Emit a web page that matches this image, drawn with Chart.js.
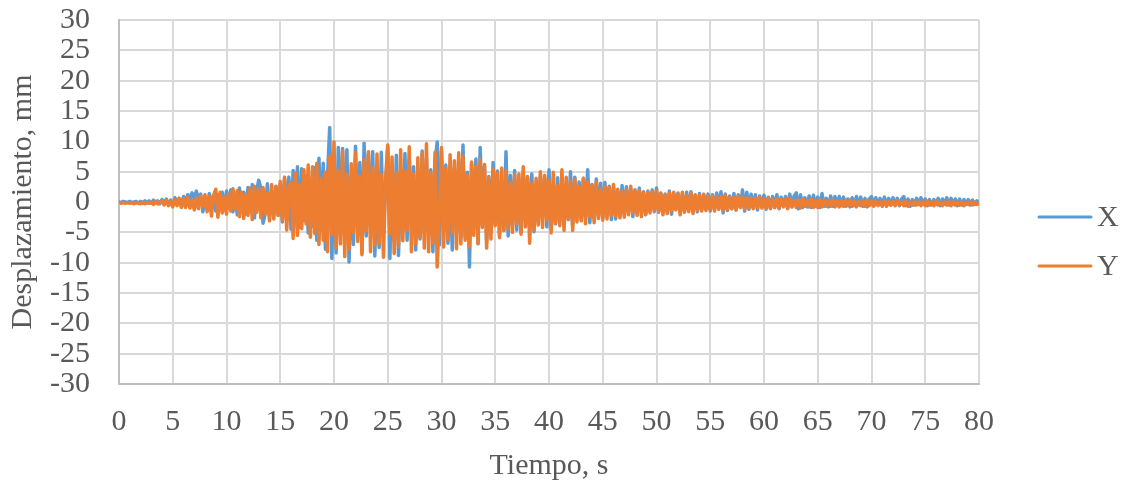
<!DOCTYPE html>
<html>
<head>
<meta charset="utf-8">
<script src="https://cdn.jsdelivr.net/npm/chart.js@4"></script>
<style>
  body { margin: 0; background: #ffffff; }
  #wrap { width: 1124px; height: 484px; }
</style>
</head>
<body>
<div id="wrap"><canvas id="myChart"></canvas></div>
<script>
// Samples every 0.2 s, 0 to 80 s (mm)
const timeStep = 0.2;

const xDisp = [
  0, -0.1, 0.1, 0, -0.1,  0.1, -0.1, 0, 0.1, -0.2,  0.1, -0.2, 0.2, -0.1, 0.2,  -0.2, 0.3, -0.1, 0.2, -0.3,  0.4, -0.2, 0.5, -0.4, 0.3,
  -0.5, 0.7, -0.3, 0.6, -0.6,  0.9, 0.2, 1.2, 0.4, 1.5,  0.6, 1.8, 0.3, 1.3, -1.6,  0.7, -1.1, 1.4, -0.5, 1.0,  -1.5, 1.2, -0.7, 1.6, -1.3,
  1.8, -0.9, 2.0, -1.6, 1.1,  -2.1, 2.3, -1.2, 1.6, -2.0,  2.4, -1.5, 2.9, -2.6, 1.8,  3.6, 2.2, -3.5, -1.9, 3.0,  -2.4, 1.7, -1.5, 2.6, -2.2,
  2.9, -3.3, 3.8, -1.8, 4.1,  -4.5, 5.2, -2.6, 5.8, -4.2,  5.5, -3.0, 4.3, -5.1, 2.8,  -4.0, 5.7, -6.3, 7.2, -3.1,  6.4, -7.8, 4.2, 12.3, -9.3,
  5.1, -8.4, 9.0, -3.5, 8.8,  -6.2, 8.6, -9.9, 4.1, -7.0,  9.2, -4.8, 6.5, -8.3, 9.7,  -5.6, 7.9, -3.9, 8.3, -8.9,  4.7, -7.5, 8.2, -5.1, 2.5,
  9.0, -9.3, 3.8, -6.4, 7.7,  -8.8, 5.2, -4.6, 8.0, -6.3,  6.9, -3.5, 5.8, -7.9, 4.4,  -6.1, 8.4, -5.0, 7.2, -3.8,  5.3, -8.2, 6.6, 9.9, -7.1,
  8.4, -4.9, 6.1, -6.8, 3.7,  -7.9, 5.5, -3.2, 7.0, -6.0,  9.4, -5.6, 4.9, -10.7, 6.3,  -4.4, 7.1, -6.9, 9.0, -3.8,  5.9, -6.4, 4.2, -5.0, 6.5,
  -3.6, 5.1, -5.4, 3.3, -4.7,  8.3, -5.6, 4.4, -3.9, 5.2,  -4.6, 3.8, -5.0, 4.7, -2.9,  4.1, -3.7, 4.6, -4.9, 2.8,  -3.5, 4.3, -2.6, 3.9, -4.1,
  5.3, -4.4, 2.8, -3.6, 4.0,  -3.2, 3.6, -4.0, 2.7, -2.9,  5.0, -3.8, 4.1, -2.4, 3.3,  -3.0, 3.9, -2.5, 5.3, -3.4,  2.9, -2.7, 3.8, -2.2, 3.1,
  -2.6, 3.2, -1.9, 2.6, -2.9,  2.4, -2.8, 1.8, -2.2, 2.7,  -2.0, 2.5, -1.6, 2.2, -2.4,  2.0, -1.8, 2.3, -1.4, 1.7,  -2.1, 1.8, -1.5, 2.0, -1.6,
  2.3, -1.7, 1.5, -1.9, 1.3,  -1.5, 1.8, -2.0, 1.4, -1.2,  1.5, -1.8, 1.2, -1.4, 1.6,  -1.2, 1.7, -1.5, 1.1, -1.6,  1.4, -1.3, 1.1, -1.0, 1.3,
  -1.5, 1.2, -1.1, 1.5, -1.2,  1.7, -1.8, 1.3, -1.4, 1.0,  -1.1, 1.4, -1.3, 1.2, -0.9,  2.0, -1.5, 1.6, -1.2, 1.3,  -1.0, 1.2, -1.3, 1.0, -0.8,
  1.1, -1.2, 0.8, -1.0, 0.9,  -0.9, 1.2, -1.1, 0.8, -0.7,  0.9, -1.0, 1.3, -0.8, 1.0,  1.5, -1.1, 1.2, -0.9, 0.7,  -0.8, 1.0, -0.9, 1.1, -0.7,
  0.8, -0.9, 1.4, -0.7, 0.6,  -0.8, 1.0, -0.7, 0.9, -0.6,  0.9, -0.6, 0.8, -0.7, 0.5,  -0.8, 0.7, -0.6, 0.9, -0.5,  0.8, -0.7, 0.6, -0.8, 0.5,
  0.9, -0.6, 0.7, -0.5, 0.6,  -0.7, 0.8, -0.6, 0.6, -0.5,  0.7, -0.5, 0.6, -0.6, 0.5,  0.9, -0.6, 0.5, -0.7, 0.4,  -0.5, 0.6, -0.4, 0.7, -0.4,
  0.5, -0.6, 0.4, -0.5, 0.4,  -0.4, 0.6, -0.6, 0.5, -0.3,  0.7, -0.5, 0.6, -0.4, 0.5,  -0.6, 0.5, -0.5, 0.4, -0.4,  0.4, -0.5, 0.3, -0.4, 0.2,
  -0.2
];

const yDisp = [
  0, -0.2, -0.1, -0.2, -0.1,  -0.2, -0.1, -0.3, -0.1, -0.2,  -0.3, 0.0, -0.3, -0.1, -0.2,  0.0, -0.4, 0.1, -0.3, 0.0,  0.2, -0.5, 0.3, -0.6, 0.1,
  -0.8, 0.4, -0.6, 0.6, -0.9,  0.5, -0.9, 0.8, -1.0, 0.3,  -1.3, 0.7, -1.1, 1.0, -0.8,  1.2, -1.6, 0.9, -2.3, 1.1,  2.1, -2.5, 1.6, -1.8, 0.9,
  -2.0, 1.4, -1.5, 2.2, -1.1,  1.9, -2.4, 1.6, -2.7, 1.2,  -2.2, 2.3, -2.9, 2.6, -1.7,  2.1, -2.6, 2.4, -2.0, 1.5,  -3.1, 2.9, -2.8, 2.5, -2.2,
  3.4, -3.0, 4.1, -4.6, 2.6,  3.2, -6.0, 4.8, -5.5, 2.9,  -4.4, 5.3, -3.6, 6.1, -5.8,  5.8, -5.2, 6.4, -7.0, 3.9,  -6.3, 4.9, -8.2, 7.5, -5.4,
  9.9, -7.6, 5.2, -6.9, 8.4,  -9.0, 4.6, -7.8, 6.3, -5.0,  8.1, -6.5, 4.3, -8.7, 7.0,  -4.8, 8.3, -8.2, 5.7, -7.1,  7.9, -6.8, 4.5, -9.1, 3.8,
  9.4, -5.3, 7.4, -8.5, 4.9,  -7.3, 8.6, -6.4, 5.1, -4.7,  9.1, -8.2, 4.6, -6.9, 7.3,  -5.8, 8.0, -7.6, 9.6, -8.2,  4.8, -6.8, 8.2, -10.7, -2.5,
  9.0, -7.4, 5.5, -6.2, 7.8,  -5.1, 6.8, -7.7, 8.1, -6.9,  7.5, -6.3, 4.4, -7.4, 6.6,  -5.5, 5.9, -6.8, 7.0, -4.2,  6.2, -7.6, 4.0, -6.1, 5.4,
  -3.9, 4.8, -5.9, 5.6, -4.7,  5.1, -4.4, 3.2, -5.0, 4.5,  -3.6, 4.6, -5.3, 5.8, -4.1,  4.2, -6.8, 3.1, -4.6, 3.9,  -3.8, 5.0, -4.2, 4.4, -3.0,
  3.6, -5.1, 4.9, -3.5, 2.7,  -3.9, 5.3, -4.7, 4.1, -2.8,  3.4, -4.7, 3.8, -3.3, 2.6,  -3.1, 3.9, -3.6, 3.2, -2.4,  2.8, -3.4, 3.3, -2.7, 2.1,
  -3.0, 2.6, -2.8, 2.4, -2.2,  2.9, -2.3, 2.1, -2.6, 1.7,  -2.5, 2.0, -2.1, 2.6, -1.8,  1.8, -2.2, 1.9, -2.4, 1.5,  -2.0, 1.6, -1.8, 1.7, -1.4,
  1.9, -1.6, 1.4, -2.1, 1.2,  -1.9, 1.5, -1.5, 1.6, -1.3,  1.3, -2.1, 1.6, -1.7, 1.1,  -1.6, 1.4, -1.9, 1.2, -1.3,  1.1, -1.5, 1.3, -1.4, 0.9,
  -1.3, 1.0, -1.5, 0.9, -1.1,  0.9, -1.4, 1.1, -1.2, 0.7,  -1.1, 0.8, -1.3, 1.0, -0.9,  0.9, -1.2, 0.7, -1.0, 0.6,  -1.1, 0.6, -0.9, 0.8, -1.0,
  0.5, -1.0, 0.7, -1.1, 0.4,  -0.9, 0.6, -1.0, 0.4, -0.8,  0.5, -1.1, 0.6, -0.8, 0.3,  -0.9, 0.4, -1.0, 0.5, -0.7,  0.3, -0.8, 0.5, -0.9, 0.2,
  -0.9, 0.4, -0.8, 0.3, -0.7,  0.3, -0.7, 0.4, -0.8, 0.2,  -0.8, 0.2, -0.7, 0.3, -0.6,  0.3, -0.7, 0.2, -0.8, 0.1,  -0.6, 0.2, -0.7, 0.3, -0.6,
  0.1, -0.7, 0.2, -0.6, 0.0,  -0.6, 0.2, -0.7, 0.1, -0.5,  0.1, -0.6, 0.2, -0.5, 0.0,  -0.6, 0.1, -0.7, 0.0, -0.5,  0.1, -0.5, 0.0, -0.6, 0.0,
  -0.6, 0.1, -0.5, 0.0, -0.6,  0.1, -0.5, 0.0, -0.6, 0.0,  -0.5, 0.1, -0.6, 0.0, -0.5,  0.0, -0.5, 0.0, -0.6, -0.1,  -0.4, 0.1, -0.5, 0.0, -0.4,
  -0.3
];

const xTicks = { min: 0, max: 80, step: 5 };
const yTicks = { min: -30, max: 30, step: 5 };
const seriesNames = ['X', 'Y'];
const seriesColors = ['#5B9BD5', '#ED7D31'];

const times = xDisp.map((_, i) => i * timeStep);
const fontFamily = '"Liberation Serif", "Times New Roman", serif';
const textColor = '#595959';

// legend drawn by hand so the line samples sit where Excel put them
const sideLegend = {
  id: 'sideLegend',
  afterDraw(chart) {
    const ctx = chart.ctx;
    ctx.save();
    ctx.font = '30px ' + fontFamily;
    ctx.fillStyle = textColor;
    ctx.textBaseline = 'middle';
    ctx.lineWidth = 3;
    ctx.lineCap = 'round';
    chart.data.datasets.forEach((ds, i) => {
      const y = 217 + i * 49;
      ctx.strokeStyle = ds.borderColor;
      ctx.beginPath();
      ctx.moveTo(1039, y);
      ctx.lineTo(1091, y);
      ctx.stroke();
      ctx.fillText(ds.label, 1097, y + 1);
    });
    ctx.restore();
  }
};

function lineSet(name, color, values, order) {
  return {
    label: name,
    data: times.map((t, i) => ({ x: t, y: values[i] })),
    borderColor: color,
    backgroundColor: color,
    borderWidth: 3.5,
    borderJoinStyle: 'round',
    borderCapStyle: 'round',
    pointRadius: 0,
    order: order
  };
}

function createChart() {
  const ctx = document.getElementById('myChart').getContext('2d');
  new Chart(ctx, {
    type: 'line',
    data: {
      datasets: [
        lineSet(seriesNames[0], seriesColors[0], xDisp, 2),
        lineSet(seriesNames[1], seriesColors[1], yDisp, 1) // orange drawn over blue
      ]
    },
    options: {
      responsive: true,
      maintainAspectRatio: false,
      animation: false,
      layout: { padding: { left: 0, right: 145, top: 20, bottom: 0 } },
      plugins: {
        legend: { display: false },
        tooltip: { enabled: false }
      },
      scales: {
        x: {
          type: 'linear',
          min: xTicks.min,
          max: xTicks.max,
          afterFit(scale) { scale.height = 100; },
          grid: { color: '#d9d9d9', lineWidth: 2, drawTicks: false },
          border: { color: '#bfbfbf', width: 2 },
          ticks: {
            stepSize: xTicks.step,
            autoSkip: false,
            maxRotation: 0,
            padding: 23,
            color: textColor,
            font: { family: fontFamily, size: 30, lineHeight: 1 }
          },
          title: {
            display: true,
            text: 'Tiempo, s',
            color: textColor,
            padding: { top: 14, bottom: 3 },
            font: { family: fontFamily, size: 30, lineHeight: 1 }
          }
        },
        y: {
          min: yTicks.min,
          max: yTicks.max,
          afterFit(scale) {
            scale.width = 119;
            scale.paddingTop = 0;
            scale.paddingBottom = 0;
          },
          grid: { color: '#d9d9d9', lineWidth: 2, drawTicks: false },
          border: { color: '#bfbfbf', width: 2 },
          ticks: {
            stepSize: yTicks.step,
            autoSkip: false,
            padding: 29,
            color: textColor,
            font: { family: fontFamily, size: 30, lineHeight: 1 }
          },
          title: {
            display: true,
            text: 'Desplazamiento, mm',
            color: textColor,
            padding: { top: 8, bottom: 12 },
            font: { family: fontFamily, size: 30, lineHeight: 1 }
          }
        }
      }
    },
    plugins: [sideLegend]
  });
}

createChart();
</script>
</body>
</html>
